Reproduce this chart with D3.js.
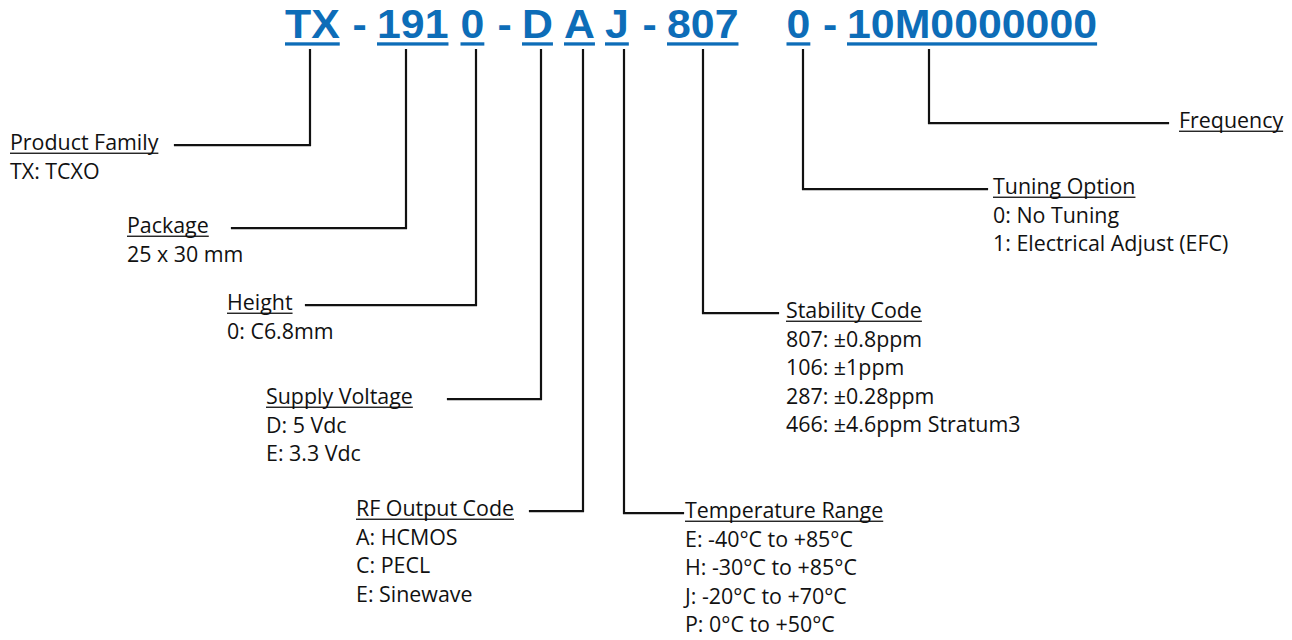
<!DOCTYPE html>
<html>
<head>
<meta charset="utf-8">
<script src="https://cdn.jsdelivr.net/npm/d3@7/dist/d3.min.js"></script>
<style>
  html, body { margin: 0; padding: 0; background: #ffffff; }
  svg { display: block; }
</style>
</head>
<body>
<svg id="chart" width="1292" height="640"></svg>
<script>
// ---- DATA ----
const segments = ["TX", "-", "191", "0", "-", "D", "A", "J", "-", "807", "0", "-", "10M0000000"];
const fieldTitles = ["Product Family", "Package", "Height", "Supply Voltage", "RF Output Code",
                     "Temperature Range", "Stability Code", "Tuning Option", "Frequency"];
const fieldSegment = [0, 2, 3, 5, 6, 7, 9, 10, 12];
const optionsProductFamily = ["TX: TCXO"];
const optionsPackage = ["25 x 30 mm"];
const optionsHeight = ["0: C6.8mm"];
const optionsSupply = ["D: 5 Vdc", "E: 3.3 Vdc"];
const optionsRF = ["A: HCMOS", "C: PECL", "E: Sinewave"];
const optionsTemp = ["E: -40°C to +85°C", "H: -30°C to +85°C", "J: -20°C to +70°C", "P: 0°C to +50°C"];
const optionsStability = ["807: ±0.8ppm", "106: ±1ppm", "287: ±0.28ppm", "466: ±4.6ppm Stratum3"];
const optionsTuning = ["0: No Tuning", "1: Electrical Adjust (EFC)"];
const optionsFrequency = [];
const fieldOptions = [optionsProductFamily, optionsPackage, optionsHeight, optionsSupply, optionsRF,
                      optionsTemp, optionsStability, optionsTuning, optionsFrequency];

// ---- LAYOUT ----
const segStartX = [285, 352.5, 377, 460.5, 497.5, 522, 564, 605, 642.5, 667, 786.5, 823, 847];
const leaderX   = [310, 406, 476, 541, 583, 624, 703, 803, 929];
const labelX    = [10, 127, 227, 266, 356, 685, 786, 993, 1179];
const labelBase = [150, 233, 310, 404, 516, 518, 318, 194, 128];
const lineEndX  = [175, 232, 306, 448, 530, 683, 778, 987, 1168];
const lineStep = 28.6;
const blue = "#0d6db8";
const ink = "#111111";

const svg = d3.select("#chart");

// Part number
const pn = svg.append("g");
const segG = pn.selectAll("g.seg").data(segments).join("g")
  .attr("class", "seg")
  .attr("transform", (d, i) => `translate(${segStartX[i]},37.5) scale(1.045,1)`);
segG.append("text")
  .attr("x", 0).attr("y", 0)
  .attr("font-family", "'Liberation Sans', Arial, sans-serif")
  .attr("font-weight", "bold")
  .attr("font-size", 41)
  .attr("fill", blue)
  .text(d => d);
segG.each(function(d) {
  if (d === "-") return;
  const g = d3.select(this);
  const w = g.select("text").node().getComputedTextLength();
  g.append("rect").attr("x", 0).attr("y", 4.8).attr("width", w).attr("height", 3.3).attr("fill", blue);
});

// Connectors
const conn = svg.append("g");
fieldTitles.forEach((t, i) => {
  const ly = labelBase[i] - 4.8;
  const path = d3.path();
  path.moveTo(leaderX[i], 50);
  path.lineTo(leaderX[i], ly);
  path.lineTo(lineEndX[i], ly);
  conn.append("path").attr("d", path.toString())
    .attr("fill", "none").attr("stroke", ink).attr("stroke-width", 2.2)
    .attr("stroke-linejoin", "miter").attr("stroke-linecap", "square");
});

// Labels
const labels = svg.append("g")
  .attr("font-family", "'Open Sans', sans-serif")
  .attr("font-size", 21.4)
  .attr("fill", ink);
fieldTitles.forEach((t, i) => {
  const title = labels.append("text").attr("x", labelX[i]).attr("y", labelBase[i]).text(t);
  const w = title.node().getComputedTextLength();
  labels.append("rect").attr("x", labelX[i]).attr("y", labelBase[i] + 2.6)
    .attr("width", w).attr("height", 1.3).attr("fill", ink);
  fieldOptions[i].forEach((o, j) => {
    labels.append("text").attr("x", labelX[i]).attr("y", labelBase[i] + lineStep * (j + 1)).text(o);
  });
});
</script>
</body>
</html>
